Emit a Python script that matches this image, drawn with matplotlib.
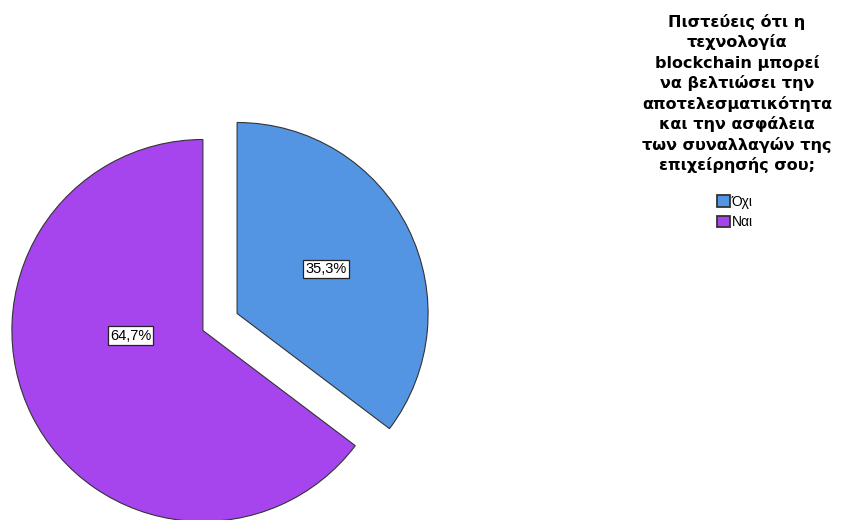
import numpy as np
import matplotlib
matplotlib.use('Agg')
import matplotlib.pyplot as plt

labels = ['Όχι', 'Ναι']
shares = [35.3, 64.7]
colors = ['#5395E3', '#A645EE']
title = ('Πιστεύεις ότι η\nτεχνολογία\nblockchain μπορεί\nνα βελτιώσει την\n'
         'αποτελεσματικότητα\nκαι την ασφάλεια\nτων συναλλαγών της\nεπιχείρησής σου;')

plt.rcParams['font.family'] = ['Liberation Sans', 'DejaVu Sans']

fig = plt.figure(figsize=(8.43, 5.2), dpi=100)
ax = fig.add_axes([0, 0, 1, 1])

R = 191
cx, cy = 220, 520 - 322
wedges, texts = ax.pie(shares, colors=colors, radius=R, center=(cx, cy),
                       startangle=90, counterclock=False,
                       explode=[0.1 * R, 0.1 * R],
                       wedgeprops=dict(edgecolor='#333333', linewidth=0.8))
ax.set_xlim(0, 843)
ax.set_ylim(0, 520)
ax.set_aspect('equal')
ax.axis('off')

# percentage labels (SPSS style boxes)
mids = []
start = 90
for s in shares:
    mids.append(start - s * 3.6 / 2)
    start -= s * 3.6
for i, s in enumerate(shares):
    m = np.deg2rad(mids[i])
    vx = cx + 0.1 * R * np.cos(m)
    vy = cy + 0.1 * R * np.sin(m)
    d, ang = (0.52, mids[i]) if i == 0 else (0.38, 184)
    a = np.deg2rad(ang)
    ax.text(vx + d * R * np.cos(a), vy + d * R * np.sin(a),
            ('%.1f%%' % s).replace('.', ','), ha='center', va='center',
            fontsize=10.5,
            bbox=dict(boxstyle='square,pad=0.15', fc='white', ec='#222222', lw=0.9))

fig.text(737 / 843, 1 - 14 / 520, title, ha='center', va='top',
         fontsize=11.5, fontweight='bold', linespacing=1.34,
         multialignment='center', family=['DejaVu Sans'])

leg = fig.legend(wedges, labels, loc='upper center',
                 bbox_to_anchor=(735 / 843, 1 - 195 / 520), frameon=False,
                 fontsize=10, handlelength=0.9, handleheight=0.9,
                 handletextpad=0.15, labelspacing=0.45, borderpad=0, borderaxespad=0)
for h in leg.legend_handles:
    h.set_linewidth(1.3)

fig.savefig('out.png', dpi=100)
